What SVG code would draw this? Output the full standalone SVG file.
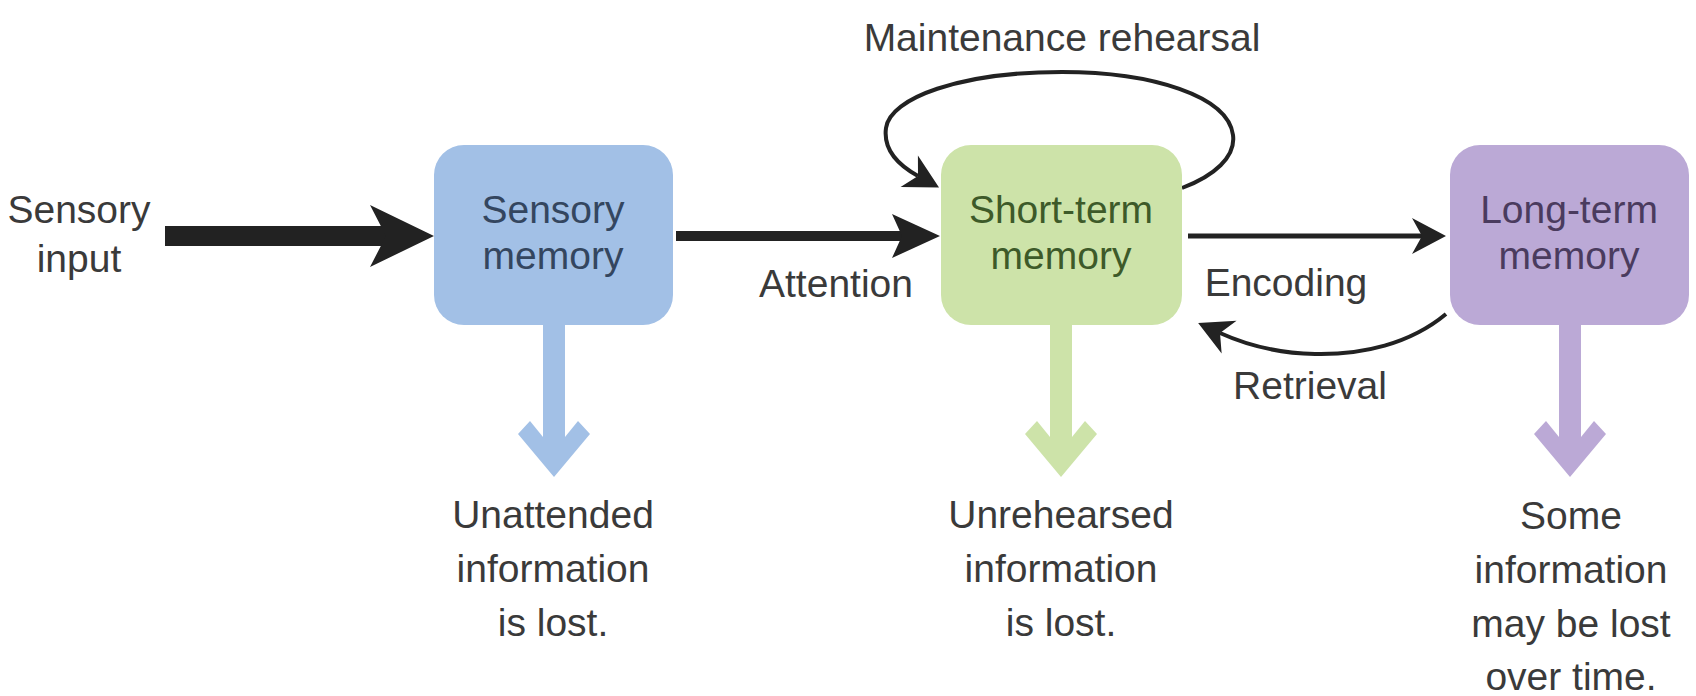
<svg xmlns="http://www.w3.org/2000/svg" width="1696" height="696" viewBox="0 0 1696 696">
<style>
text{font-family:"Liberation Sans",Arial,sans-serif;font-size:39px;text-anchor:middle;fill:#3a3a3a}
.blue{fill:#a2c0e6}
.green{fill:#cde3a9}
.purple{fill:#bba9d6}
.tb{fill:#34465f}
.tg{fill:#3d5a29}
.tp{fill:#4a3b5e}
.ln{fill:none;stroke:#222}
</style>
<defs>
<marker id="headL" markerUnits="userSpaceOnUse" orient="auto" refX="0" refY="0" viewBox="-20 -40 80 80" markerWidth="80" markerHeight="80" overflow="visible">
<path d="M-16,-31 L48,0 L-16,31 L0,0 Z" fill="#222"/>
</marker>
<marker id="headM" markerUnits="userSpaceOnUse" orient="auto" refX="0" refY="0" viewBox="-20 -30 70 60" markerWidth="70" markerHeight="60" overflow="visible">
<path d="M-10,-22 L38,0 L-10,22 L0,0 Z" fill="#222"/>
</marker>
<marker id="headS" markerUnits="userSpaceOnUse" orient="auto" refX="0" refY="0" viewBox="-20 -25 60 50" markerWidth="60" markerHeight="50" overflow="visible">
<path d="M-10,-18 L24,0 L-10,18 L0,0 Z" fill="#222"/>
</marker>
</defs>
<rect width="1696" height="696" fill="#ffffff"/>

<g id="connectors">
<path class="ln" d="M165,236 L386,236" stroke-width="20" marker-end="url(#headL)"/>
<path class="ln" d="M676,236 L902,236" stroke-width="10" marker-end="url(#headM)"/>
<path class="ln" d="M1188,236 L1422,236" stroke-width="5" marker-end="url(#headS)"/>
<path class="ln" d="M1446,314 C1410,344 1362,355 1315,354 C1272,353 1242,343 1220,333" stroke-width="4" marker-end="url(#headS)"/>
<path class="ln" d="M1182,188 C1214,176 1236,157 1233,135 C1228,96 1152,72 1062,72 C960,72 890,98 886,128 C883,150 898,165 918,176" stroke-width="4" marker-end="url(#headS)"/>
</g>

<g id="sensory-input">
<text x="79" y="223">Sensory</text>
<text x="79" y="272">input</text>
</g>

<g id="sensory-memory">
<rect class="blue" x="434" y="145" width="239" height="180" rx="30"/>
<text class="tb" x="553" y="223">Sensory</text>
<text class="tb" x="553" y="269">memory</text>
<polygon class="blue" points="543,320 565,320 565,437 578,421 590,434 554,477 518,434 530,421 543,437"/>
<text x="553" y="528">Unattended</text>
<text x="553" y="582">information</text>
<text x="553" y="636">is lost.</text>
</g>

<g id="attention-label">
<text x="836" y="297">Attention</text>
</g>

<g id="short-term-memory">
<rect class="green" x="941" y="145" width="241" height="180" rx="30"/>
<text class="tg" x="1061" y="223">Short-term</text>
<text class="tg" x="1061" y="269">memory</text>
<polygon class="green" points="1050,320 1072,320 1072,437 1085,421 1097,434 1061,477 1025,434 1037,421 1050,437"/>
<text x="1061" y="528">Unrehearsed</text>
<text x="1061" y="582">information</text>
<text x="1061" y="636">is lost.</text>
</g>

<g id="maintenance-label">
<text x="1062" y="51">Maintenance rehearsal</text>
</g>

<g id="encoding-label">
<text x="1286" y="296">Encoding</text>
</g>

<g id="retrieval-label">
<text x="1310" y="399">Retrieval</text>
</g>

<g id="long-term-memory">
<rect class="purple" x="1450" y="145" width="239" height="180" rx="30"/>
<text class="tp" x="1569" y="223">Long-term</text>
<text class="tp" x="1569" y="269">memory</text>
<polygon class="purple" points="1559,320 1581,320 1581,437 1594,421 1606,434 1570,477 1534,434 1546,421 1559,437"/>
<text x="1571" y="529">Some</text>
<text x="1571" y="583">information</text>
<text x="1571" y="637">may be lost</text>
<text x="1571" y="690">over time.</text>
</g>
</svg>
